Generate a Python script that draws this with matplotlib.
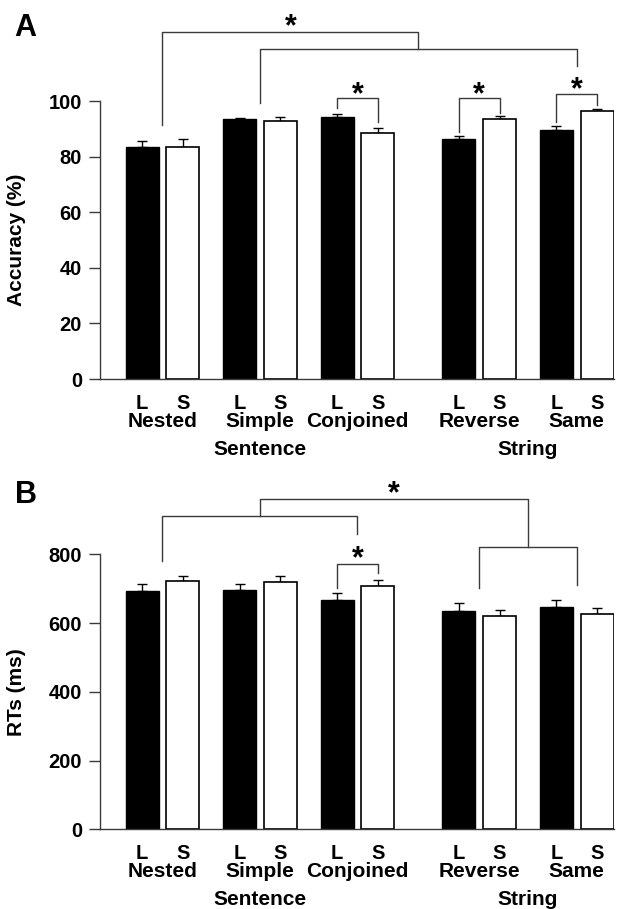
import numpy as np
import matplotlib
matplotlib.use('Agg')
import matplotlib.pyplot as plt
from matplotlib.transforms import offset_copy

plt.rcParams['font.family'] = ['Liberation Sans', 'DejaVu Sans']
plt.rcParams['font.weight'] = 'bold'
plt.rcParams['axes.labelweight'] = 'bold'

# --- data ---
groups = ['Nested', 'Simple', 'Conjoined', 'Reverse', 'Same']
group_pos = [0, 1, 2, 3.25, 4.25]

acc_L = [83.6, 93.6, 94.1, 86.3, 89.7]
acc_S = [83.6, 92.9, 88.6, 93.5, 96.5]
acc_L_err = [1.9, 0.4, 1.3, 1.0, 1.5]
acc_S_err = [2.6, 1.2, 1.6, 1.0, 0.5]

rt_L = [694, 698, 668, 634, 647]
rt_S = [723, 719, 709, 622, 626]
rt_L_err = [19, 15, 20, 25, 19]
rt_S_err = [15, 19, 17, 16, 17]

# significance brackets: (x1, x2, top, leg1 bottom, leg2 bottom)
# x given as ('L'/'S'/'g', group index) or midpoint of two group centres
acc_brackets = [
    (('g', 0), ('m', 1, 4), 124.9, 91.4, 118.7),
    (('g', 1), ('g', 4), 118.7, 99.3, 112.6),
    (('L', 2), ('S', 2), 101.2, 97.4, 92.3),
    (('L', 3), ('S', 3), 101.2, 89.0, 95.6),
    (('L', 4), ('S', 4), 102.4, 92.3, 98.4),
]
acc_stars = [(('m2', 0, 1, 4), 129.1), (('g', 2), 104.6), (('g', 3), 104.6), (('g', 4), 106.4)]

rt_brackets = [
    (('g', 0), ('g', 2), 912, 782, 859),
    (('g', 3), ('g', 4), 821, 703, 710),
    (('m', 0, 2), ('m', 3, 4), 962.5, 912, 821),
    (('L', 2), ('S', 2), 772, 701.6, 745),
]
rt_stars = [(('m3', 0, 2, 3, 4), 997), (('g', 2), 808)]

OFF = 0.416
W = 0.339
LINE = '#3a3a3a'


def xpos(spec):
    kind = spec[0]
    gc = lambda i: group_pos[i] + OFF / 2
    if kind == 'L':
        return group_pos[spec[1]]
    if kind == 'S':
        return group_pos[spec[1]] + OFF
    if kind == 'g':
        return gc(spec[1])
    if kind == 'm':
        return (gc(spec[1]) + gc(spec[2])) / 2
    if kind == 'm2':
        return (gc(spec[1]) + (gc(spec[2]) + gc(spec[3])) / 2) / 2
    if kind == 'm3':
        return ((gc(spec[1]) + gc(spec[2])) / 2 + (gc(spec[3]) + gc(spec[4])) / 2) / 2


def draw_panel(ax, L, S, Le, Se, ymax, ytop, ystep, ylabel, brackets, stars):
    xL = np.array(group_pos)
    xS = xL + OFF
    ax.bar(xL, L, W, color='black', edgecolor='black', linewidth=1.0, zorder=2)
    ax.bar(xS, S, W, color='white', edgecolor='black', linewidth=1.2, zorder=2)
    ax.errorbar(xL, L, yerr=[np.zeros(5), Le], fmt='none', ecolor='black',
                elinewidth=1.0, capsize=3.6, capthick=1.0, zorder=1)
    ax.errorbar(xS, S, yerr=[np.zeros(5), Se], fmt='none', ecolor='black',
                elinewidth=1.0, capsize=3.6, capthick=1.0, zorder=1)

    ax.set_xlim(group_pos[0] - 0.431, group_pos[-1] + OFF + W / 2 + 0.005)
    ax.set_ylim(0, ytop)
    ax.set_yticks(np.arange(0, ymax + 1, ystep))
    ax.spines['left'].set_bounds(0, ymax)
    for s in ['top', 'right']:
        ax.spines[s].set_visible(False)
    for s in ['left', 'bottom']:
        ax.spines[s].set_color(LINE)
        ax.spines[s].set_linewidth(1.0)
    ax.tick_params(axis='y', length=8, width=1.0, color=LINE, labelsize=14.5, pad=5)
    ax.set_xticks(np.concatenate([xL, xS]))
    ax.set_xticklabels(['L'] * 5 + ['S'] * 5, fontsize=14.5)
    ax.tick_params(axis='x', length=0, pad=10.5)
    ax.set_ylabel(ylabel, fontsize=15, fontweight='bold')
    ax.yaxis.set_label_coords(-0.144, ymax / 2 / ytop)

    tr = ax.get_xaxis_transform()
    for i, g in enumerate(groups):
        ax.text(xL[i] + OFF / 2, -0.118, g, transform=tr, ha='center', va='center', fontsize=15)

    for (a, b, top, y1, y2) in brackets:
        x1, x2 = xpos(a), xpos(b)
        ax.plot([x1, x1, x2, x2], [y1, top, top, y2], color=LINE, lw=1.0,
                clip_on=False, zorder=3)
    star_tr = offset_copy(ax.transData, fig=ax.figure, y=-11, units='points')
    for (spec, y) in stars:
        ax.text(xpos(spec), y, '*', transform=star_tr, ha='center', va='baseline',
                fontsize=22, clip_on=False)
    return tr


fig = plt.figure(figsize=(6.37, 9.09), dpi=100)
axA = fig.add_axes([0.157, 0.583, 0.807, 0.3976])
axB = fig.add_axes([0.157, 0.0877, 0.807, 0.3968])

trA = draw_panel(axA, acc_L, acc_S, acc_L_err, acc_S_err, 100, 130, 20,
                 'Accuracy (%)', acc_brackets, acc_stars)
trB = draw_panel(axB, rt_L, rt_S, rt_L_err, rt_S_err, 800, 1050, 200,
                 'RTs (ms)', rt_brackets, rt_stars)

for ax, tr in [(axA, trA), (axB, trB)]:
    ax.text(xpos(('g', 1)), -0.196, 'Sentence', transform=tr, ha='center', va='center', fontsize=15)
    ax.text(xpos(('m', 3, 4)), -0.196, 'String', transform=tr, ha='center', va='center', fontsize=15)

fig.text(14 / 637, 1 - 36 / 909, 'A', fontsize=22, ha='left', va='baseline')
fig.text(15 / 637, 1 - 503 / 909, 'B', fontsize=22, ha='left', va='baseline')

fig.savefig('out.png', dpi=100)
